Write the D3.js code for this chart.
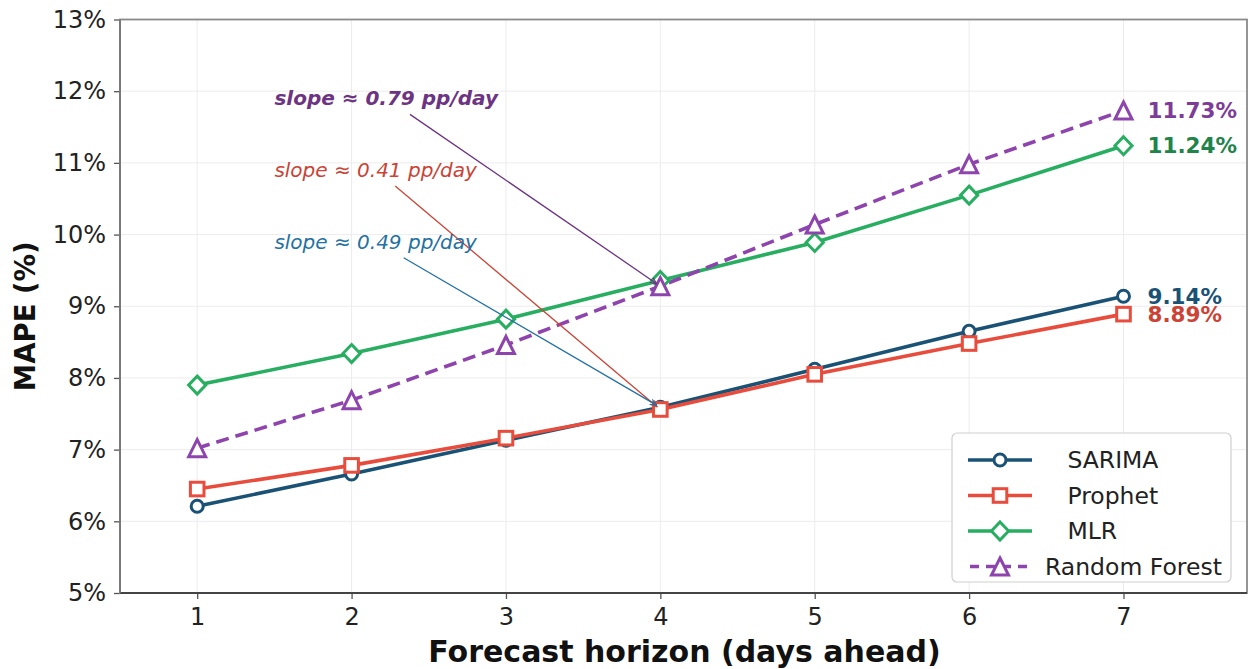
<!DOCTYPE html>
<html><head><meta charset="utf-8">
<script src="https://cdn.jsdelivr.net/npm/d3@7"></script>
<style>body{margin:0;background:#fff} text{font-family:"DejaVu Sans",sans-serif}</style>
</head><body>
<svg id="c" width="1250" height="669"></svg>
<script>
const days=[1,2,3,4,5,6,7];
const sarima=[6.21,6.66,7.13,7.59,8.12,8.65,9.14];
const prophet=[6.45,6.78,7.16,7.56,8.05,8.48,8.89];
const mlr=[7.90,8.34,8.82,9.36,9.89,10.55,11.24];
const rf=[7.02,7.69,8.46,9.28,10.14,10.98,11.73];
const yTicks=[5,6,7,8,9,10,11,12,13];
const seriesNames=["SARIMA","Prophet","MLR","Random Forest"];
const legendLabels=["   SARIMA","   Prophet","   MLR","Random Forest"];
const endLabels=["9.14%","8.89%","11.24%","11.73%"];
const annText=["slope ≈ 0.79 pp/day","slope ≈ 0.41 pp/day","slope ≈ 0.49 pp/day"];
const annSeries=[3,1,0];
const annPos=[[1.5,11.9],[1.5,10.9],[1.5,9.9]];

const allSeries=[sarima,prophet,mlr,rf];
const colors=["#1a5276","#e74c3c","#27ae60","#8e44ad"];
const labelColors=["#1a5276","#cb4335","#1e8449","#7d3c98"];
const annColors=["#6c3483","#cb4335","#2471a3"];
const annStyle=[{w:"bold"},{w:"normal"},{w:"normal"}];
const markers=["circle","square","diamond","triangle"];

const svg=d3.select("#c");
const L=120,R=1247,T=19.5,B=593;
const x=d3.scaleLinear().domain([0.5,7.8]).range([L,R]);
const y=d3.scaleLinear().domain([5,13]).range([B,T]);

// grid
const g=svg.append("g");
g.selectAll(".gy").data(yTicks).join("line").attr("x1",L).attr("x2",R)
 .attr("y1",d=>y(d)).attr("y2",d=>y(d)).attr("stroke","#ececec").attr("stroke-width",1);
g.selectAll(".gx").data(days).join("line").attr("y1",T).attr("y2",B)
 .attr("x1",d=>x(d)).attr("x2",d=>x(d)).attr("stroke","#ececec").attr("stroke-width",1);

// axes
const ax=svg.append("g").attr("transform",`translate(${L},0)`)
 .call(d3.axisLeft(y).tickValues(yTicks).tickFormat(d=>d+"%").tickSize(6).tickPadding(8));
ax.select(".domain").remove();
ax.selectAll("text").attr("font-size",24).attr("fill","#222").attr("font-family","DejaVu Sans");
ax.selectAll("line").attr("stroke","#555").attr("stroke-width",1.3);
const bx=svg.append("g").attr("transform",`translate(0,${B})`)
 .call(d3.axisBottom(x).tickValues(days).tickFormat(d3.format("d")).tickSize(6).tickPadding(9));
bx.select(".domain").remove();
bx.selectAll("text").attr("font-size",24).attr("fill","#222").attr("font-family","DejaVu Sans");
bx.selectAll("line").attr("stroke","#555").attr("stroke-width",1.3);

// lines
const line=d3.line().x((d,i)=>x(days[i])).y(d=>y(d));
allSeries.forEach((s,k)=>{
  svg.append("path").datum(s).attr("d",line).attr("fill","none")
   .attr("stroke",colors[k]).attr("stroke-width",3.6)
   .attr("stroke-dasharray",k===3?"13,7":null).attr("stroke-linejoin","round");
});
function marker(sel,type,cx,cy,color,scale){
  scale=scale||1;
  const sw=3;
  if(type==="circle") sel.append("circle").attr("cx",cx).attr("cy",cy).attr("r",6*scale);
  else if(type==="square") sel.append("rect").attr("x",cx-6.8*scale).attr("y",cy-6.8*scale).attr("width",13.6*scale).attr("height",13.6*scale);
  else if(type==="diamond") sel.append("path").attr("d",`M${cx},${cy-9*scale}L${cx+8.6*scale},${cy}L${cx},${cy+9*scale}L${cx-8.6*scale},${cy}Z`);
  else sel.append("path").attr("d",`M${cx},${cy-8.5*scale}L${cx+8.5*scale},${cy+8.5*scale}L${cx-8.5*scale},${cy+8.5*scale}Z`);
  sel.selectAll("*").attr("fill","#fff").attr("stroke",color).attr("stroke-width",sw).attr("stroke-linejoin","miter");
}
allSeries.forEach((s,k)=>{
  s.forEach((v,i)=>{ marker(svg.append("g"),markers[k],x(days[i]),y(v),colors[k]); });
});

// annotations
svg.append("defs").selectAll("marker").data(annColors).join("marker")
 .attr("id",(d,i)=>"ah"+i).attr("viewBox","0 0 10 10").attr("refX",10).attr("refY",5)
 .attr("markerWidth",7).attr("markerHeight",7).attr("markerUnits","userSpaceOnUse").attr("orient","auto")
 .append("path").attr("d","M0,1L10,5L0,9").attr("fill","none").attr("stroke",d=>d).attr("stroke-width",1.5);
annText.forEach((t,i)=>{
  const tx=x(annPos[i][0]), ty=y(annPos[i][1]);
  const te=svg.append("text").attr("x",tx).attr("y",ty).attr("dy","0.35em")
   .attr("font-size",20).attr("font-style","italic").attr("font-weight",annStyle[i].w)
   .attr("fill",annColors[i]).text(t);
  const bb=te.node().getBBox();
  const cx=bb.x+bb.width/2, cy=bb.y+bb.height/2;
  const s=allSeries[annSeries[i]];
  const px=x(days[3]), py=y(s[3]);
  const dx=px-cx, dy=py-cy, len=Math.hypot(dx,dy);
  const hw=bb.width/2+4, hh=bb.height/2+4;
  const tt=Math.min(hw/Math.abs(dx), hh/Math.abs(dy));
  const sx=cx+dx*tt, sy=cy+dy*tt;
  const ex=px-dx/len*4, ey=py-dy/len*4;
  svg.append("line").attr("x1",sx).attr("y1",sy).attr("x2",ex).attr("y2",ey)
   .attr("stroke",annColors[i]).attr("stroke-width",1.3).attr("marker-end",`url(#ah${i})`);
});

// end labels
allSeries.forEach((s,k)=>{
  svg.append("text").attr("x",x(days[6])+24).attr("y",y(s[6])).attr("dy","0.35em")
   .attr("font-size",21.5).attr("font-weight","bold").attr("fill",labelColors[k]).text(endLabels[k]);
});

// spines
svg.append("rect").attr("x",L).attr("y",T).attr("width",R-L).attr("height",B-T)
 .attr("fill","none").attr("stroke","#8a8a8a").attr("stroke-width",1.8);
svg.append("line").attr("x1",L).attr("x2",R).attr("y1",B).attr("y2",B).attr("stroke","#444").attr("stroke-width",1.8);
svg.append("line").attr("x1",L).attr("x2",L).attr("y1",T).attr("y2",B).attr("stroke","#777").attr("stroke-width",1.8);

// legend
const lg=svg.append("g");
lg.append("rect").attr("x",952).attr("y",433).attr("width",279).attr("height",149).attr("rx",5)
 .attr("fill","#fff").attr("fill-opacity",0.9).attr("stroke","#cfcfcf").attr("stroke-width",1.2);
seriesNames.forEach((n,k)=>{
  const ly=460+k*35.5;
  const row=lg.append("g");
  row.append("line").attr("x1",968).attr("x2",1032).attr("y1",ly).attr("y2",ly)
   .attr("stroke",colors[k]).attr("stroke-width",3.6).attr("stroke-dasharray",k===3?"9,7":null)
   .attr("stroke-dashoffset",k===3?-2:0);
  marker(row.append("g"),markers[k],1000,ly,colors[k]);
  row.append("text").attr("x",1045).attr("y",ly).attr("dy","0.35em").attr("font-size",23.5)
   .attr("fill","#222").style("white-space","pre").attr("xml:space","preserve").text(legendLabels[k]);
});

// axis titles
svg.append("text").attr("x",(L+R)/2+1).attr("y",662).attr("text-anchor","middle")
 .attr("font-size",30).attr("font-weight","bold").attr("fill","#111").text("Forecast horizon (days ahead)");
svg.append("text").attr("transform",`translate(35,${(T+B)/2+10}) rotate(-90)`).attr("text-anchor","middle")
 .attr("font-size",27.5).attr("font-weight","bold").attr("fill","#111").text("MAPE (%)");
</script>
</body></html>
